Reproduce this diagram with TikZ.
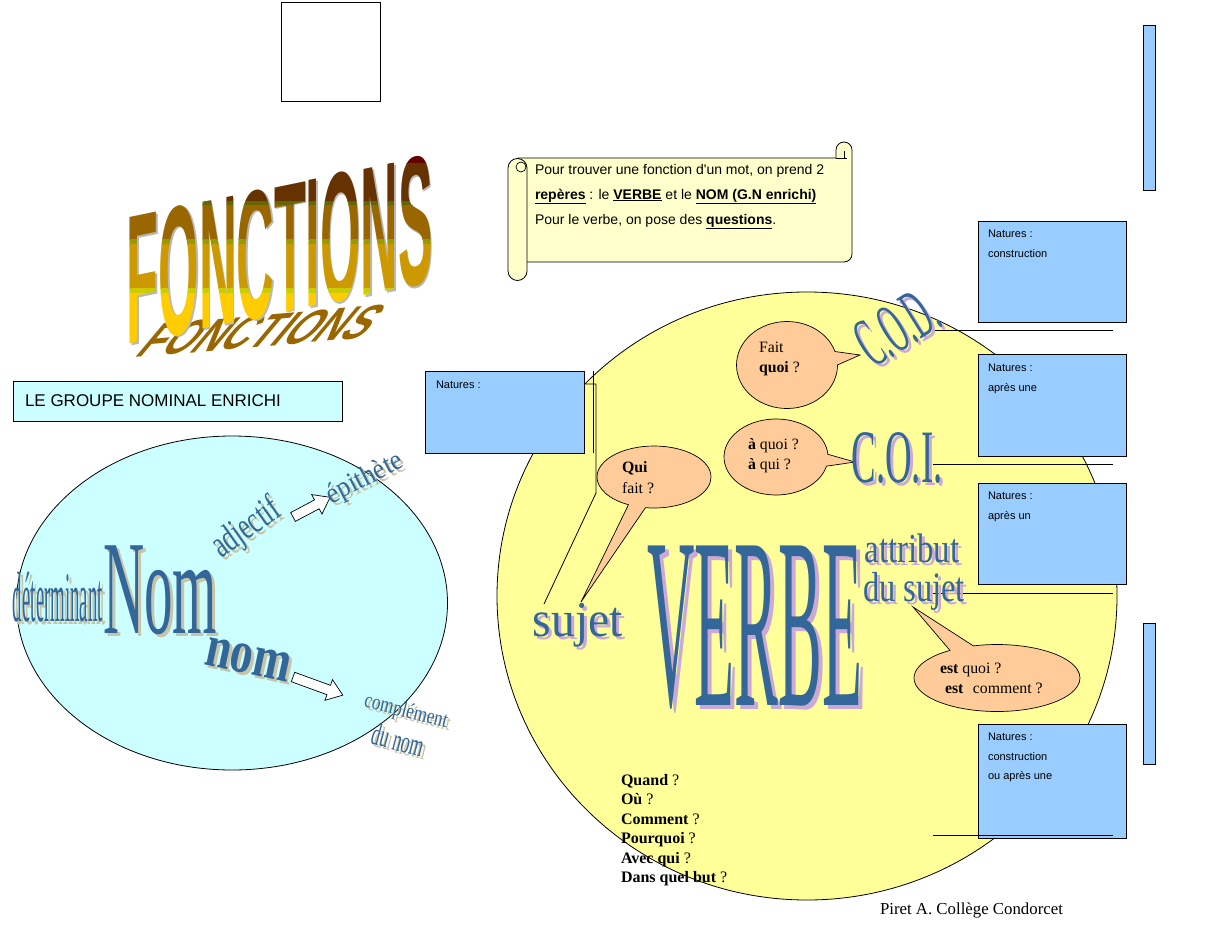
\documentclass[tikz,border=0pt]{standalone}
\usepackage{fontspec}
\setmainfont{Liberation Serif}
\newfontfamily\arialf{Liberation Sans}
\usepackage{graphicx}
\usetikzlibrary{calc,shapes.callouts,shapes.geometric}
\definecolor{wblue}{HTML}{336699}
\definecolor{natblue}{HTML}{99CCFF}
\definecolor{cyanl}{HTML}{CCFFFF}
\definecolor{yell}{HTML}{FFFF99}
\definecolor{bub}{HTML}{FFCC99}
\definecolor{scrollc}{HTML}{FFFFCC}
\definecolor{shl}{HTML}{C8C4A8}
\definecolor{shr}{HTML}{CCA8D4}
\definecolor{fA}{HTML}{660000}
\definecolor{fB}{HTML}{663300}
\definecolor{fC}{HTML}{666600}
\definecolor{fD}{HTML}{996600}
\definecolor{fE}{HTML}{999900}
\definecolor{fF}{HTML}{CC9900}
\definecolor{fG}{HTML}{CCCC00}
\definecolor{fH}{HTML}{FFCC00}
\definecolor{fgray}{HTML}{B8B8B8}
\tikzset{
 base/.style={inner sep=0pt, outer sep=0pt},
 natbox/.style={base, draw=black, fill=natblue, line width=0.9pt},
 nattext/.style={base, anchor=base west, font=\arialf\fontsize{11}{13}\selectfont},
 scrolltext/.style={base, anchor=base west, font=\arialf\fontsize{14}{16}\selectfont},
 bubble/.style={ellipse callout, draw=black, fill=bub, line width=0.7pt, base, callout pointer arc=18},
 bubtext/.style={base, anchor=base west, font=\fontsize{15.8}{18}\selectfont},
 qtext/.style={base, anchor=base west, font=\fontsize{16}{18}\selectfont},
 wa/.style={base, text=wblue},
 conn/.style={draw=black, line width=0.8pt},
}
\def\washade{shl}
\def\wdx{3}
\newcommand\wart[7]{%
 \node[base, text=\washade, rotate=#6] at (#2+\wdx,#3+\wdx) {\resizebox*{#4pt}{#5pt}{#7}};
 \node[wa, rotate=#6] (#1) at (#2,#3) {\resizebox*{#4pt}{#5pt}{#7}};}
\newcommand\fontxt{\resizebox*{306pt}{130pt}{\arialf\bfseries FONCTIONS}}
\newcommand\fonband[3]{\begin{scope}\clip (0,#1) rectangle (1206,#2);
 \begin{scope}[shift={(280,250)},yslant=0.206]\node[base,text=#3,transform shape] {\fontxt};\end{scope}\end{scope}}
\begin{document}
\begin{tikzpicture}[x=1pt,y=-1pt]
\useasboundingbox[fill=white] (0,0) rectangle (1206,931);

% top square
\node[base, draw=black, line width=0.8pt, minimum width=99pt, minimum height=99pt] (sq) at (330.5,51.5) {};

% right bars
\node[natbox, minimum width=12pt, minimum height=165pt] (bar1) at (1149,107.5) {};
\node[natbox, minimum width=12pt, minimum height=141pt] (bar2) at (1149,693.5) {};

% scroll
\draw[fill=scrollc, line width=0.8pt] (518,158) -- (836,158) -- (836,150) arc[start angle=180, end angle=0, radius=8pt] -- (852,254) arc[start angle=0,end angle=-90,radius=8pt] -- (518,262) -- cycle;
\draw[line width=0.8pt] (836,158) -- (847,158) (844,151) -- (844,158);
\draw[fill=scrollc, line width=0.8pt] (508,168) -- (508,271) arc[start angle=180, end angle=360, radius=9.5pt] -- (527,168) arc[start angle=0, end angle=180, radius=9.5pt] -- cycle;
\draw[fill=scrollc, line width=0.7pt] (521,167) circle[radius=5pt];
\node[scrolltext] (s1) at (535,174) {Pour trouver une fonction d'un mot, on prend 2};
\node[scrolltext] (s2) at (535,199) {\underline{\textbf{repères}} : le \underline{\textbf{VERBE}} et le \underline{\textbf{NOM (G.N enrichi)}}};
\node[scrolltext] (s3) at (535,224) {Pour le verbe, on pose des \underline{\textbf{questions}}.};

% FONCTIONS
\begin{scope}[shift={(262,331)}, rotate=5, xslant=1.0]
 \node[base, text=fD, transform shape] (fonshadow) {\resizebox*{230pt}{32pt}{\arialf\bfseries FONCTIONS}};
\end{scope}
\begin{scope}[shift={(281.5,251.5)},yslant=0.206]\node[base,text=fgray,transform shape] (fongray) {\fontxt};\end{scope}
\fonband{0}{163}{fA}
\fonband{163}{201}{fB}
\fonband{201}{205}{fC}
\fonband{205}{239}{fD}
\fonband{239}{244}{fE}
\fonband{244}{288}{fF}
\fonband{288}{293}{fG}
\fonband{293}{931}{fH}

% groupe nominal
\node[base, draw=black, line width=0.8pt, fill=cyanl, minimum width=329pt, minimum height=40pt] (gn) at (177.5,401.5) {};
\node[base, anchor=base west, font=\arialf\fontsize{17}{18}\selectfont] (gntext) at (25,406) {LE GROUPE NOMINAL ENRICHI};

% big shapes
\node[base, ellipse, draw=black, line width=0.8pt, fill=cyanl, minimum width=431pt, minimum height=334pt] (gnell) at (232,603) {};
\node[base, ellipse, draw=black, line width=0.8pt, fill=yell, minimum width=620pt, minimum height=608pt] (vcirc) at (807,596) {};

% natures boxes
\node[natbox, minimum width=159pt, minimum height=82pt] (nL) at (504.5,412) {};
\node[nattext] at ($(nL.north west)+(11,17)$) {Natures :};
\node[natbox, minimum width=148pt, minimum height=101pt] (n1) at (1052,271.5) {};
\node[nattext] at ($(n1.north west)+(10,16)$) {Natures :};
\node[nattext] at ($(n1.north west)+(10,36)$) {construction};
\node[natbox, minimum width=148pt, minimum height=102pt] (n2) at (1052,405) {};
\node[nattext] at ($(n2.north west)+(10,17)$) {Natures :};
\node[nattext] at ($(n2.north west)+(10,37)$) {après une};
\node[natbox, minimum width=148pt, minimum height=101pt] (n3) at (1052,533.5) {};
\node[nattext] at ($(n3.north west)+(10,16)$) {Natures :};
\node[nattext] at ($(n3.north west)+(10,36)$) {après un};
\node[natbox, minimum width=148pt, minimum height=114pt] (n4) at (1052,781) {};
\node[nattext] at ($(n4.north west)+(10,16)$) {Natures :};
\node[nattext] at ($(n4.north west)+(10,36)$) {construction};
\node[nattext] at ($(n4.north west)+(10,55)$) {ou après une};

% connector lines
\coordinate (l1a) at (933,330); \coordinate (l1b) at (1113,330);
\coordinate (l2a) at (933,464); \coordinate (l2b) at (1113,464);
\coordinate (l3a) at (933,593); \coordinate (l3b) at (1113,593);
\coordinate (l4a) at (933,835); \coordinate (l4b) at (1113,835);
\draw[conn] (l1a) -- (l1b);
\draw[conn] (l2a) -- (l2b);
\draw[conn] (l3a) -- (l3b);
\draw[conn] (l4a) -- (l4b);
\coordinate (sj1) at (585,384); \coordinate (sj2) at (544,604);
\draw[conn] (sj1) -- (596,384) -- (596,493) -- (sj2);
\draw[conn] (593,371) -- (593,453);

% bubbles
\node[bubble, minimum width=101pt, minimum height=87pt, callout absolute pointer={(860,355)}] (bq1) at (787,365) {};
\node[bubble, minimum width=104pt, minimum height=76pt, callout absolute pointer={(855,462)}] (bq2) at (776,457) {};
\node[bubble, minimum width=114pt, minimum height=62pt, callout absolute pointer={(581,602)}] (bq0) at (654,477) {};
\node[bubble, minimum width=166pt, minimum height=67pt, callout absolute pointer={(913,607)}] (bq3) at (997,678) {};
\node[bubtext] (t01) at (622,472) {\textbf{Qui}};
\node[bubtext] (t02) at (622,493) {fait ?};
\node[bubtext] (t11) at (759,352) {Fait};
\node[bubtext] (t12) at (759,372) {\textbf{quoi} ?};
\node[bubtext] (t21) at (748,449) {\textbf{à} quoi ?};
\node[bubtext] (t22) at (748,469) {\textbf{à} qui ?};
\node[bubtext] (t31) at (940,673) {\textbf{est} quoi ?};
\node[bubtext] (t32) at (945,693) {\textbf{est}\hspace{0.6em}comment ?};

% hollow arrows
\begin{scope}[shift={(293,517)}, rotate=28]
 \draw[fill=white, line width=0.7pt] (0,-5) -- (27,-5) -- (27,-11) -- (42,0) -- (27,11) -- (27,5) -- (0,5) -- cycle;
\end{scope}
\begin{scope}[shift={(293,677)}, rotate=-20]
 \draw[fill=white, line width=0.7pt] (0,-5) -- (38,-5) -- (38,-11) -- (53,0) -- (38,11) -- (38,5) -- (0,5) -- cycle;
\end{scope}

% word art, left
\wart{det}{58}{597}{90}{50}{0}{déterminant}
\wart{nomA}{160}{590}{114}{89}{0}{Nom}
\wart{adj}{247}{529}{76}{35}{35}{adjectif}
\wart{epi}{365}{479}{83}{26}{27}{épithète}
\wart{nomB}{248}{660}{86}{29}{-12}{\textbf{nom}}
\wart{cdn1}{406}{712}{85}{20}{-14}{complément}
\wart{cdn2}{398}{740}{53}{22}{-15}{du nom}
% word art, right
\def\washade{shr}
\def\wdx{4}
\wart{verbe}{755}{628}{215}{163}{0}{VERBE}
\def\wdx{3}
\wart{sujet}{578}{625}{90}{44}{0}{sujet}
\wart{attr1}{912}{548}{95}{29}{0}{attribut}
\wart{attr2}{914}{591}{102}{38}{0}{du sujet}
\wart{cod}{897}{327}{84}{48}{32}{C.O.D.}
\wart{coi}{897}{458}{91}{51}{0}{C.O.I.}

% questions
\node[qtext] (q1) at (621,785) {\textbf{Quand} ?};
\node[qtext] (q2) at (621,804) {\textbf{Où} ?};
\node[qtext] (q3) at (621,824) {\textbf{Comment} ?};
\node[qtext] (q4) at (621,843) {\textbf{Pourquoi} ?};
\node[qtext] (q5) at (621,863) {\textbf{Avec qui} ?};
\node[qtext] (q6) at (621,882) {\textbf{Dans quel but} ?};
\node[base, anchor=base west, font=\fontsize{16.8}{18}\selectfont] (auth) at (880,914) {Piret A. Collège Condorcet};
\end{tikzpicture}
\end{document}
